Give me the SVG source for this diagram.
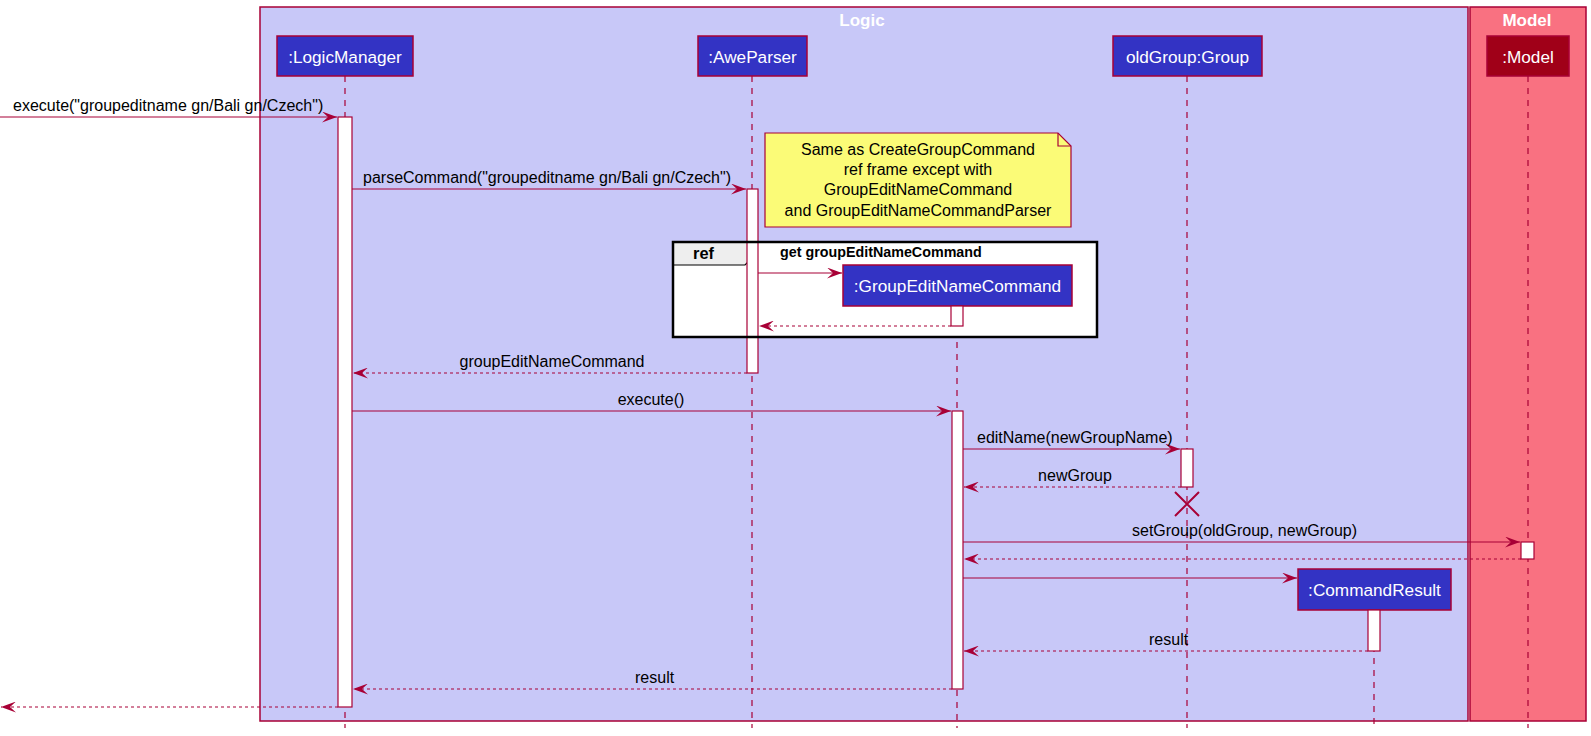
<svg xmlns="http://www.w3.org/2000/svg" width="1591" height="736" viewBox="0 0 1591 736">
<style>
text{font-family:"Liberation Sans",Arial,sans-serif}
.msg{font-size:16px;fill:#000}
.ptxt{font-size:17.2px;fill:#fff;text-anchor:middle}
.ptc{fill:#3333C4;stroke:#A80036;stroke-width:1.5}
.life{stroke:#A80036;stroke-width:1.2;stroke-dasharray:6,6;fill:none}
.act{fill:#fff;stroke:#A80036;stroke-width:1.2}
.arr{stroke:#A80036;stroke-width:1.2;fill:none;marker-end:url(#ah)}
.ret{stroke:#A80036;stroke-width:1.2;fill:none;stroke-dasharray:3,3;marker-end:url(#ah)}
.pkgt{font-size:17px;font-weight:bold;fill:#fff;text-anchor:middle}
</style>
<defs>
<marker id="ah" viewBox="0 0 15 11" refX="15" refY="5.5" markerWidth="15" markerHeight="11" markerUnits="userSpaceOnUse" orient="auto">
<path d="M0,0 L15,5.5 L0,11 L6,5.5 Z" fill="#A80036"/>
</marker>
</defs>
<rect width="1591" height="736" fill="#fff"/>
<g id="pkg-logic">
<rect x="260" y="7" width="1208" height="714" fill="#C8C8F8" stroke="#A80036" stroke-width="1.5"/>
<text class="pkgt" x="862" y="26">Logic</text>
</g>
<g id="pkg-model">
<rect x="1470" y="7" width="116" height="714" fill="#F97181" stroke="#A80036" stroke-width="1.5"/>
<text class="pkgt" x="1527" y="26">Model</text>
</g>
<g id="lifelines">
<line class="life" x1="345" y1="76" x2="345" y2="728"/>
<line class="life" x1="752" y1="76" x2="752" y2="728"/>
<line class="life" x1="957" y1="306" x2="957" y2="728"/>
<line class="life" x1="1187" y1="76" x2="1187" y2="728"/>
<line class="life" x1="1374" y1="610" x2="1374" y2="728"/>
<line class="life" x1="1528" y1="76" x2="1528" y2="728"/>
</g>
<g id="LogicManager">
<rect class="ptc" x="277" y="36" width="136" height="40"/>
<text class="ptxt" x="345" y="63">:LogicManager</text>
<rect class="act" x="338" y="117" width="14" height="590"/>
</g>
<g id="note">
<path d="M765,133 L1058,133 L1071,146 L1071,227 L765,227 Z" fill="#FBFB77" stroke="#A80036" stroke-width="1.2"/>
<path d="M1058,133 L1058,146 L1071,146" fill="none" stroke="#A80036" stroke-width="1.2"/>
<text class="msg" x="918" y="155" text-anchor="middle">Same as CreateGroupCommand</text>
<text class="msg" x="918" y="175" text-anchor="middle">ref frame except with</text>
<text class="msg" x="918" y="195" text-anchor="middle">GroupEditNameCommand</text>
<text class="msg" x="918" y="216" text-anchor="middle">and GroupEditNameCommandParser</text>
</g>
<g id="ref-frame">
<rect x="673" y="242" width="424" height="95" fill="#fff"/>
<path d="M673,242 L757,242 L757,253 L745,265 L673,265 Z" fill="#EEEEEE" stroke="#000" stroke-width="1.2"/>
<text x="693" y="259" font-size="16.4" font-weight="bold" fill="#000">ref</text>
<text x="780" y="257" font-size="14.3" font-weight="bold" fill="#000">get groupEditNameCommand</text>
</g>
<g id="AweParser">
<rect class="ptc" x="698" y="36" width="109" height="40"/>
<text class="ptxt" x="752.5" y="63">:AweParser</text>
<rect class="act" x="747" y="189" width="11" height="184"/>
</g>
<g id="ref-frame-border">
<rect x="673" y="242" width="424" height="95" fill="none" stroke="#000" stroke-width="2.5"/>
</g>
<g id="GroupEditNameCommand">
<rect class="ptc" x="843" y="265" width="229" height="41"/>
<text class="ptxt" x="957.5" y="292">:GroupEditNameCommand</text>
<rect class="act" x="951" y="306" width="12" height="20"/>
<rect class="act" x="952" y="411" width="11" height="278"/>
</g>
<g id="oldGroup">
<rect class="ptc" x="1113" y="36" width="149" height="40"/>
<text class="ptxt" x="1187.5" y="63">oldGroup:Group</text>
<rect class="act" x="1181" y="449" width="12" height="38"/>
<path d="M1175,492 L1199,516 M1199,492 L1175,516" stroke="#A80036" stroke-width="2"/>
</g>
<g id="Model">
<rect x="1487" y="36" width="82" height="40" fill="#A00018" stroke="#A80036" stroke-width="1.5"/>
<text class="ptxt" x="1528" y="63">:Model</text>
<rect class="act" x="1521" y="542" width="13" height="17"/>
</g>
<g id="CommandResult">
<rect class="ptc" x="1298" y="569" width="153" height="41"/>
<text class="ptxt" x="1374.5" y="596">:CommandResult</text>
<rect class="act" x="1368" y="610" width="12" height="41"/>
</g>
<g id="connectors">
<line class="arr" x1="0" y1="117" x2="337" y2="117"/>
<text class="msg" x="13" y="111">execute("groupeditname gn/Bali gn/Czech")</text>
<line class="arr" x1="352" y1="189" x2="746" y2="189"/>
<text class="msg" x="363" y="183">parseCommand("groupeditname gn/Bali gn/Czech")</text>
<line class="arr" x1="758" y1="273" x2="842" y2="273"/>
<line class="ret" x1="951" y1="326" x2="759" y2="326"/>
<line class="ret" x1="747" y1="373" x2="353" y2="373"/>
<text class="msg" x="552" y="367" text-anchor="middle">groupEditNameCommand</text>
<line class="arr" x1="352" y1="411" x2="951" y2="411"/>
<text class="msg" x="651" y="405" text-anchor="middle">execute()</text>
<line class="arr" x1="963" y1="449" x2="1180" y2="449"/>
<text class="msg" x="977" y="443">editName(newGroupName)</text>
<line class="ret" x1="1181" y1="487" x2="964" y2="487"/>
<text class="msg" x="1075" y="481" text-anchor="middle">newGroup</text>
<line class="arr" x1="963" y1="542" x2="1520" y2="542"/>
<text class="msg" x="1132" y="536">setGroup(oldGroup, newGroup)</text>
<line class="ret" x1="1521" y1="559" x2="964" y2="559"/>
<line class="arr" x1="963" y1="578" x2="1297" y2="578"/>
<line class="ret" x1="1368" y1="651" x2="964" y2="651"/>
<text class="msg" x="1149" y="645">result</text>
<line class="ret" x1="952" y1="689" x2="353" y2="689"/>
<text class="msg" x="635" y="683">result</text>
<line class="ret" x1="338" y1="707" x2="1" y2="707"/>
</g>
</svg>
